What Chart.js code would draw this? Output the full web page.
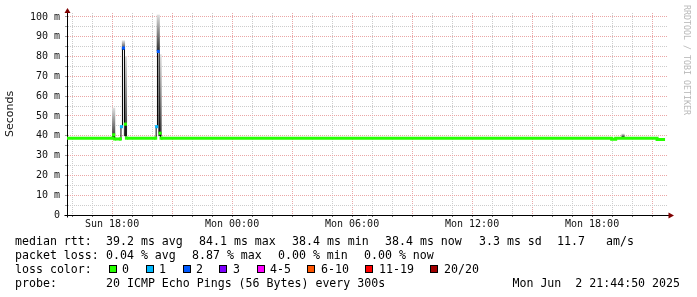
<!DOCTYPE html>
<html>
<head>
<meta charset="utf-8">
<title>smokeping</title>
<script src="https://cdn.jsdelivr.net/npm/chart.js@4.4.0/dist/chart.umd.min.js"></script>
<style>
  body { margin: 0; background: #fff; }
  #wrap { position: relative; width: 697px; height: 297px; overflow: hidden; }
  #chart { position: absolute; left: 0; top: 0; }
  .t { position: absolute; font-family: "DejaVu Sans Mono", monospace; font-size: 11.6px; line-height: 14px; white-space: pre; color: #000; }
  .box { position: absolute; top: 265px; width: 8px; height: 8px; box-sizing: border-box; border: 1px solid #000; }
  #credit { position: absolute; left: 691px; top: 5px; transform: rotate(90deg); transform-origin: 0 0;
            font-family: "DejaVu Sans Mono", monospace; font-size: 8.3px; line-height: 8px; color: #b8b8b8; white-space: pre; }
</style>
</head>
<body>
<div id="wrap">
  <canvas id="chart" width="697" height="297"></canvas>
  <div id="credit">RRDTOOL / TOBI OETIKER</div>

  <div class="t" style="left:15px;top:234px">median rtt:</div>
  <div class="t" style="left:106px;top:234px">39.2 ms avg</div>
  <div class="t" style="left:199px;top:234px">84.1 ms max</div>
  <div class="t" style="left:292px;top:234px">38.4 ms min</div>
  <div class="t" style="left:385px;top:234px">38.4 ms now</div>
  <div class="t" style="left:479px;top:234px">3.3 ms sd</div>
  <div class="t" style="left:557px;top:234px">11.7</div>
  <div class="t" style="left:606px;top:234px">am/s</div>

  <div class="t" style="left:15px;top:248px">packet loss:</div>
  <div class="t" style="left:106px;top:248px">0.04 % avg</div>
  <div class="t" style="left:192px;top:248px">8.87 % max</div>
  <div class="t" style="left:278px;top:248px">0.00 % min</div>
  <div class="t" style="left:364px;top:248px">0.00 % now</div>

  <div class="t" style="left:15px;top:262px">loss color:</div>
  <div class="box" style="left:109px;background:#26ff00"></div><div class="t" style="left:122px;top:262px">0</div>
  <div class="box" style="left:146px;background:#00b8ff"></div><div class="t" style="left:159px;top:262px">1</div>
  <div class="box" style="left:183px;background:#0059ff"></div><div class="t" style="left:196px;top:262px">2</div>
  <div class="box" style="left:219px;background:#7e00ff"></div><div class="t" style="left:233px;top:262px">3</div>
  <div class="box" style="left:257px;background:#ff00ff"></div><div class="t" style="left:270px;top:262px">4-5</div>
  <div class="box" style="left:307px;background:#ff5500"></div><div class="t" style="left:321px;top:262px">6-10</div>
  <div class="box" style="left:365px;background:#ff0000"></div><div class="t" style="left:379px;top:262px">11-19</div>
  <div class="box" style="left:430px;background:#a10000"></div><div class="t" style="left:444px;top:262px">20/20</div>

  <div class="t" style="left:15px;top:276px">probe:</div>
  <div class="t" style="left:106px;top:276px">20 ICMP Echo Pings (56 Bytes) every 300s</div>
  <div class="t" style="right:17px;top:276px">Mon Jun  2 21:44:50 2025</div>
</div>

<script>
// time axis in hours since Sun 00:00; graph ends Mon Jun 2 21:44:50 2025 and spans 30 h
const tEnd = 45 + 44 / 60 + 50 / 3600;
const tStart = tEnd - 30;

const xLabelHours = [18, 24, 30, 36, 42];
const xLabels = ['Sun 18:00', 'Mon 00:00', 'Mon 06:00', 'Mon 12:00', 'Mon 18:00'];
const yLabelValues = [0, 10, 20, 30, 40, 50, 60, 70, 80, 90, 100];
const yLabels = ['0', '10 m', '20 m', '30 m', '40 m', '50 m', '60 m', '70 m', '80 m', '90 m', '100 m'];

// median rtt (ms) on the quiet stretches, null = gap round a spike
const baseTimes  = [15.75, 17.98, 18.06, 18.15, 18.45, 18.46, 18.75, 20.17, 20.2, 20.45, 42.98, 43.18, 45.25, 45.65];
const baseMedian = [38.8, 38.8, null, 38.4, 38.4, null, 38.8, 38.8, null, 38.8, 38.3, 38.8, 38.1, 38.1];

// samples round the spikes: median rtt (ms) and pings lost (of 20)
const pingTimes  = [18.03, 18.08, 18.13, 18.42, 18.47, 18.57, 18.67, 18.72, 20.18, 20.23, 20.31, 20.40, 20.45];
const pingMedian = [38.8, 40.5, 38.4, 38.4, 44.6, 84.3, 45.9, 38.8, 38.8, 44.6, 82.6, 41.3, 38.8];
const pingLoss   = [0, 0, 0, 0, 1, 2, 0, 0, 0, 1, 2, 0, 0];

// smoke: spread of the 20 pings (ms)
const smokeTimes = [18.08, 18.57, 18.67, 20.31, 20.40, 43.55];
const smokeLow   = [39.0, 83.5, 40.0, 83.0, 40.0, 39.5];
const smokeHigh  = [54.0, 88.0, 80.0, 101.0, 81.0, 40.9];

function lossColor(n) {
  if (n === 0) return '#26ff00';
  if (n === 1) return '#00b8ff';
  if (n === 2) return '#0059ff';
  if (n === 3) return '#7e00ff';
  if (n <= 5) return '#ff00ff';
  if (n <= 10) return '#ff5500';
  if (n <= 19) return '#ff0000';
  return '#a10000';
}

const hourTicks = [];
for (let h = Math.ceil(tStart); h <= tEnd; h++) hourTicks.push(h);
const rttTicks = [];
for (let v = 0; v <= 100; v += 5) rttTicks.push(v);

const RED = '#eaa6a6';
const GREY = '#cccccc';

const axisArrows = {
  id: 'axisArrows',
  afterDraw(chart) {
    const { ctx, chartArea: a } = chart;
    const x0 = Math.round(a.left) + 0.5;
    const y0 = Math.round(a.bottom) + 0.5;
    ctx.save();
    ctx.strokeStyle = '#000';
    ctx.lineWidth = 1;
    ctx.beginPath();
    ctx.moveTo(x0, a.top); ctx.lineTo(x0, a.top - 2);
    ctx.moveTo(x0, y0); ctx.lineTo(x0, y0 + 2);
    ctx.moveTo(a.right, y0); ctx.lineTo(a.right + 2, y0);
    ctx.moveTo(x0, y0); ctx.lineTo(x0 - 3, y0);
    ctx.stroke();
    ctx.fillStyle = '#7f0000';
    ctx.beginPath();
    ctx.moveTo(x0, a.top - 5); ctx.lineTo(x0 - 3, a.top); ctx.lineTo(x0 + 3, a.top);
    ctx.closePath(); ctx.fill();
    ctx.beginPath();
    ctx.moveTo(a.right + 7, y0); ctx.lineTo(a.right + 1.5, y0 - 3); ctx.lineTo(a.right + 1.5, y0 + 3);
    ctx.closePath(); ctx.fill();
    ctx.restore();
  }
};

function smokeFill(c) {
  const chart = c.chart;
  if (!chart.chartArea || !c.raw) return '#999';
  const y = chart.scales.y;
  const g = chart.ctx.createLinearGradient(0, y.getPixelForValue(c.raw.y[1]), 0, y.getPixelForValue(c.raw.y[0]));
  g.addColorStop(0, '#dedede');
  g.addColorStop(1, '#303030');
  return g;
}

new Chart(document.getElementById('chart'), {
  type: 'line',
  data: {
    datasets: [
      {
        type: 'bar',
        data: smokeTimes.map((t, i) => ({ x: t, y: [smokeLow[i], smokeHigh[i]] })),
        backgroundColor: smokeFill,
        borderWidth: 0,
        barThickness: 2.5,
        grouped: false,
        order: 5
      },
      {
        data: pingTimes.map((t, i) => ({ x: t, y: pingMedian[i] })),
        borderColor: '#000',
        borderWidth: 1,
        stepped: 'middle',
        pointRadius: 0,
        order: 4
      },
      {
        data: baseTimes.map((t, i) => ({ x: t, y: baseMedian[i] })),
        borderColor: '#26ff00',
        borderWidth: 3,
        stepped: true,
        spanGaps: false,
        pointRadius: 0,
        order: 3
      },
      {
        data: pingTimes.map((t, i) => ({ x: t, y: pingMedian[i] })),
        showLine: false,
        pointStyle: 'rect',
        pointRadius: 2.2,
        pointBorderWidth: 0,
        pointBackgroundColor: pingLoss.map(lossColor),
        order: 1
      }
    ]
  },
  options: {
    responsive: false,
    animation: false,
    events: [],
    layout: { padding: { left: 0, right: 30, top: 13, bottom: 67 } },
    plugins: { legend: { display: false }, tooltip: { enabled: false } },
    scales: {
      x: {
        type: 'linear',
        min: tStart,
        max: tEnd,
        offset: false,
        afterBuildTicks: s => { s.ticks = hourTicks.map(v => ({ value: v })); },
        afterFit: s => { s.height = 15; },
        grid: {
          offset: false,
          color: c => (c.tick && c.tick.value % 3 === 0 ? RED : GREY),
          tickLength: 2,
          tickColor: '#666'
        },
        border: { color: '#000', width: 1, dash: [1, 1] },
        ticks: {
          autoSkip: false,
          maxRotation: 0,
          padding: 1,
          color: '#111',
          font: { family: 'DejaVu Sans Mono', size: 10 },
          callback: v => {
            const i = xLabelHours.indexOf(v);
            return i < 0 ? '' : xLabels[i];
          }
        }
      },
      y: {
        min: 0,
        max: 102,
        afterBuildTicks: s => { s.ticks = rttTicks.map(v => ({ value: v })); },
        afterFit: s => { s.width = 67; },
        grid: {
          color: c => (c.tick && c.tick.value % 10 === 0 ? RED : GREY),
          tickLength: 2,
          tickColor: '#999'
        },
        border: { color: '#000', width: 1, dash: [1, 1] },
        ticks: {
          autoSkip: false,
          padding: 5,
          color: '#111',
          font: { family: 'DejaVu Sans Mono', size: 10 },
          callback: v => {
            const i = yLabelValues.indexOf(v);
            return i < 0 ? '' : yLabels[i];
          }
        },
        title: {
          display: true,
          text: 'Seconds',
          color: '#111',
          font: { family: 'DejaVu Sans', size: 11 },
          padding: { top: 4, bottom: 0 }
        }
      }
    }
  },
  plugins: [axisArrows]
});
</script>
</body>
</html>
